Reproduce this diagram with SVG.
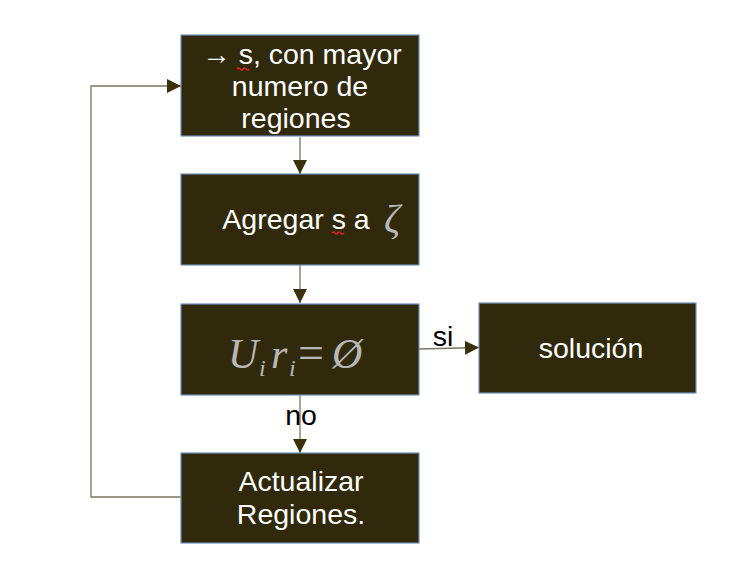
<svg xmlns="http://www.w3.org/2000/svg" width="733" height="577" viewBox="0 0 733 577">
<style>
.box{fill:#31290b;stroke:#6f8fb8;stroke-width:1.2}
.t{font-family:"Liberation Sans",Arial,sans-serif;font-size:28.5px;fill:#ffffff;text-anchor:middle}
.lbl{font-family:"Liberation Sans",Arial,sans-serif;font-size:28.5px;fill:#000000;text-anchor:middle}
.m{font-family:"Liberation Serif","Times New Roman",serif;font-style:italic;fill:#b8b8b8}
.c{fill:none;stroke:#7a7560;stroke-width:1.3}
.sq{fill:none;stroke:#e02020;stroke-width:1.3}
</style>
<defs>
<marker id="ah" markerWidth="14" markerHeight="14" refX="14" refY="7" orient="auto" markerUnits="userSpaceOnUse">
<path d="M0,0 L14,7 L0,14 Z" fill="#3a300c"/>
</marker>
</defs>
<rect width="733" height="577" fill="#ffffff"/>
<g id="connectors">
<line class="c" x1="300" y1="137" x2="300" y2="174" marker-end="url(#ah)"/>
<line class="c" x1="300" y1="265" x2="300" y2="303" marker-end="url(#ah)"/>
<line class="c" x1="300" y1="395" x2="300" y2="453" marker-end="url(#ah)"/>
<line class="c" x1="419" y1="349" x2="479" y2="347.5" marker-end="url(#ah)"/>
<polyline class="c" points="181,497 91,497 91,86 181,86" marker-end="url(#ah)"/>
<text class="lbl" x="443" y="346">si</text>
<text class="lbl" x="301" y="425">no</text>
</g>
<g id="n1">
<rect class="box" x="181" y="35" width="238" height="101"/>
<text class="t" x="302" y="64">→ s, con mayor</text>
<text class="t" x="300" y="96">numero de</text>
<text class="t" x="296" y="128">regiones</text>
<path class="sq" d="M237,69 q1.5,-2 3,0 t3,0 t3,0 t3,0"/>
</g>
<g id="n2">
<rect class="box" x="181" y="174" width="238" height="91"/>
<text class="t" x="296" y="229">Agregar s a</text>
<path class="sq" d="M332,233 q1.5,-2 3,0 t3,0 t3,0 t3,0"/>
<text class="m" x="384" y="232" font-size="40">ζ</text>
</g>
<g id="n3">
<rect class="box" x="181" y="304" width="238" height="91"/>
<g class="m" font-size="42">
<text x="228" y="368">U</text>
<text x="259" y="376" font-size="24">i</text>
<text x="271" y="368">r</text>
<text x="289" y="376" font-size="24">i</text>
<text x="298" y="368" font-style="normal" font-size="46">=</text>
<text x="332" y="368">Ø</text>
</g>
</g>
<g id="n4">
<rect class="box" x="479" y="303" width="217" height="90"/>
<text class="t" x="591" y="358">solución</text>
</g>
<g id="n5">
<rect class="box" x="181" y="453" width="238" height="90"/>
<text class="t" x="301" y="491">Actualizar</text>
<text class="t" x="301" y="524">Regiones.</text>
</g>
</svg>
